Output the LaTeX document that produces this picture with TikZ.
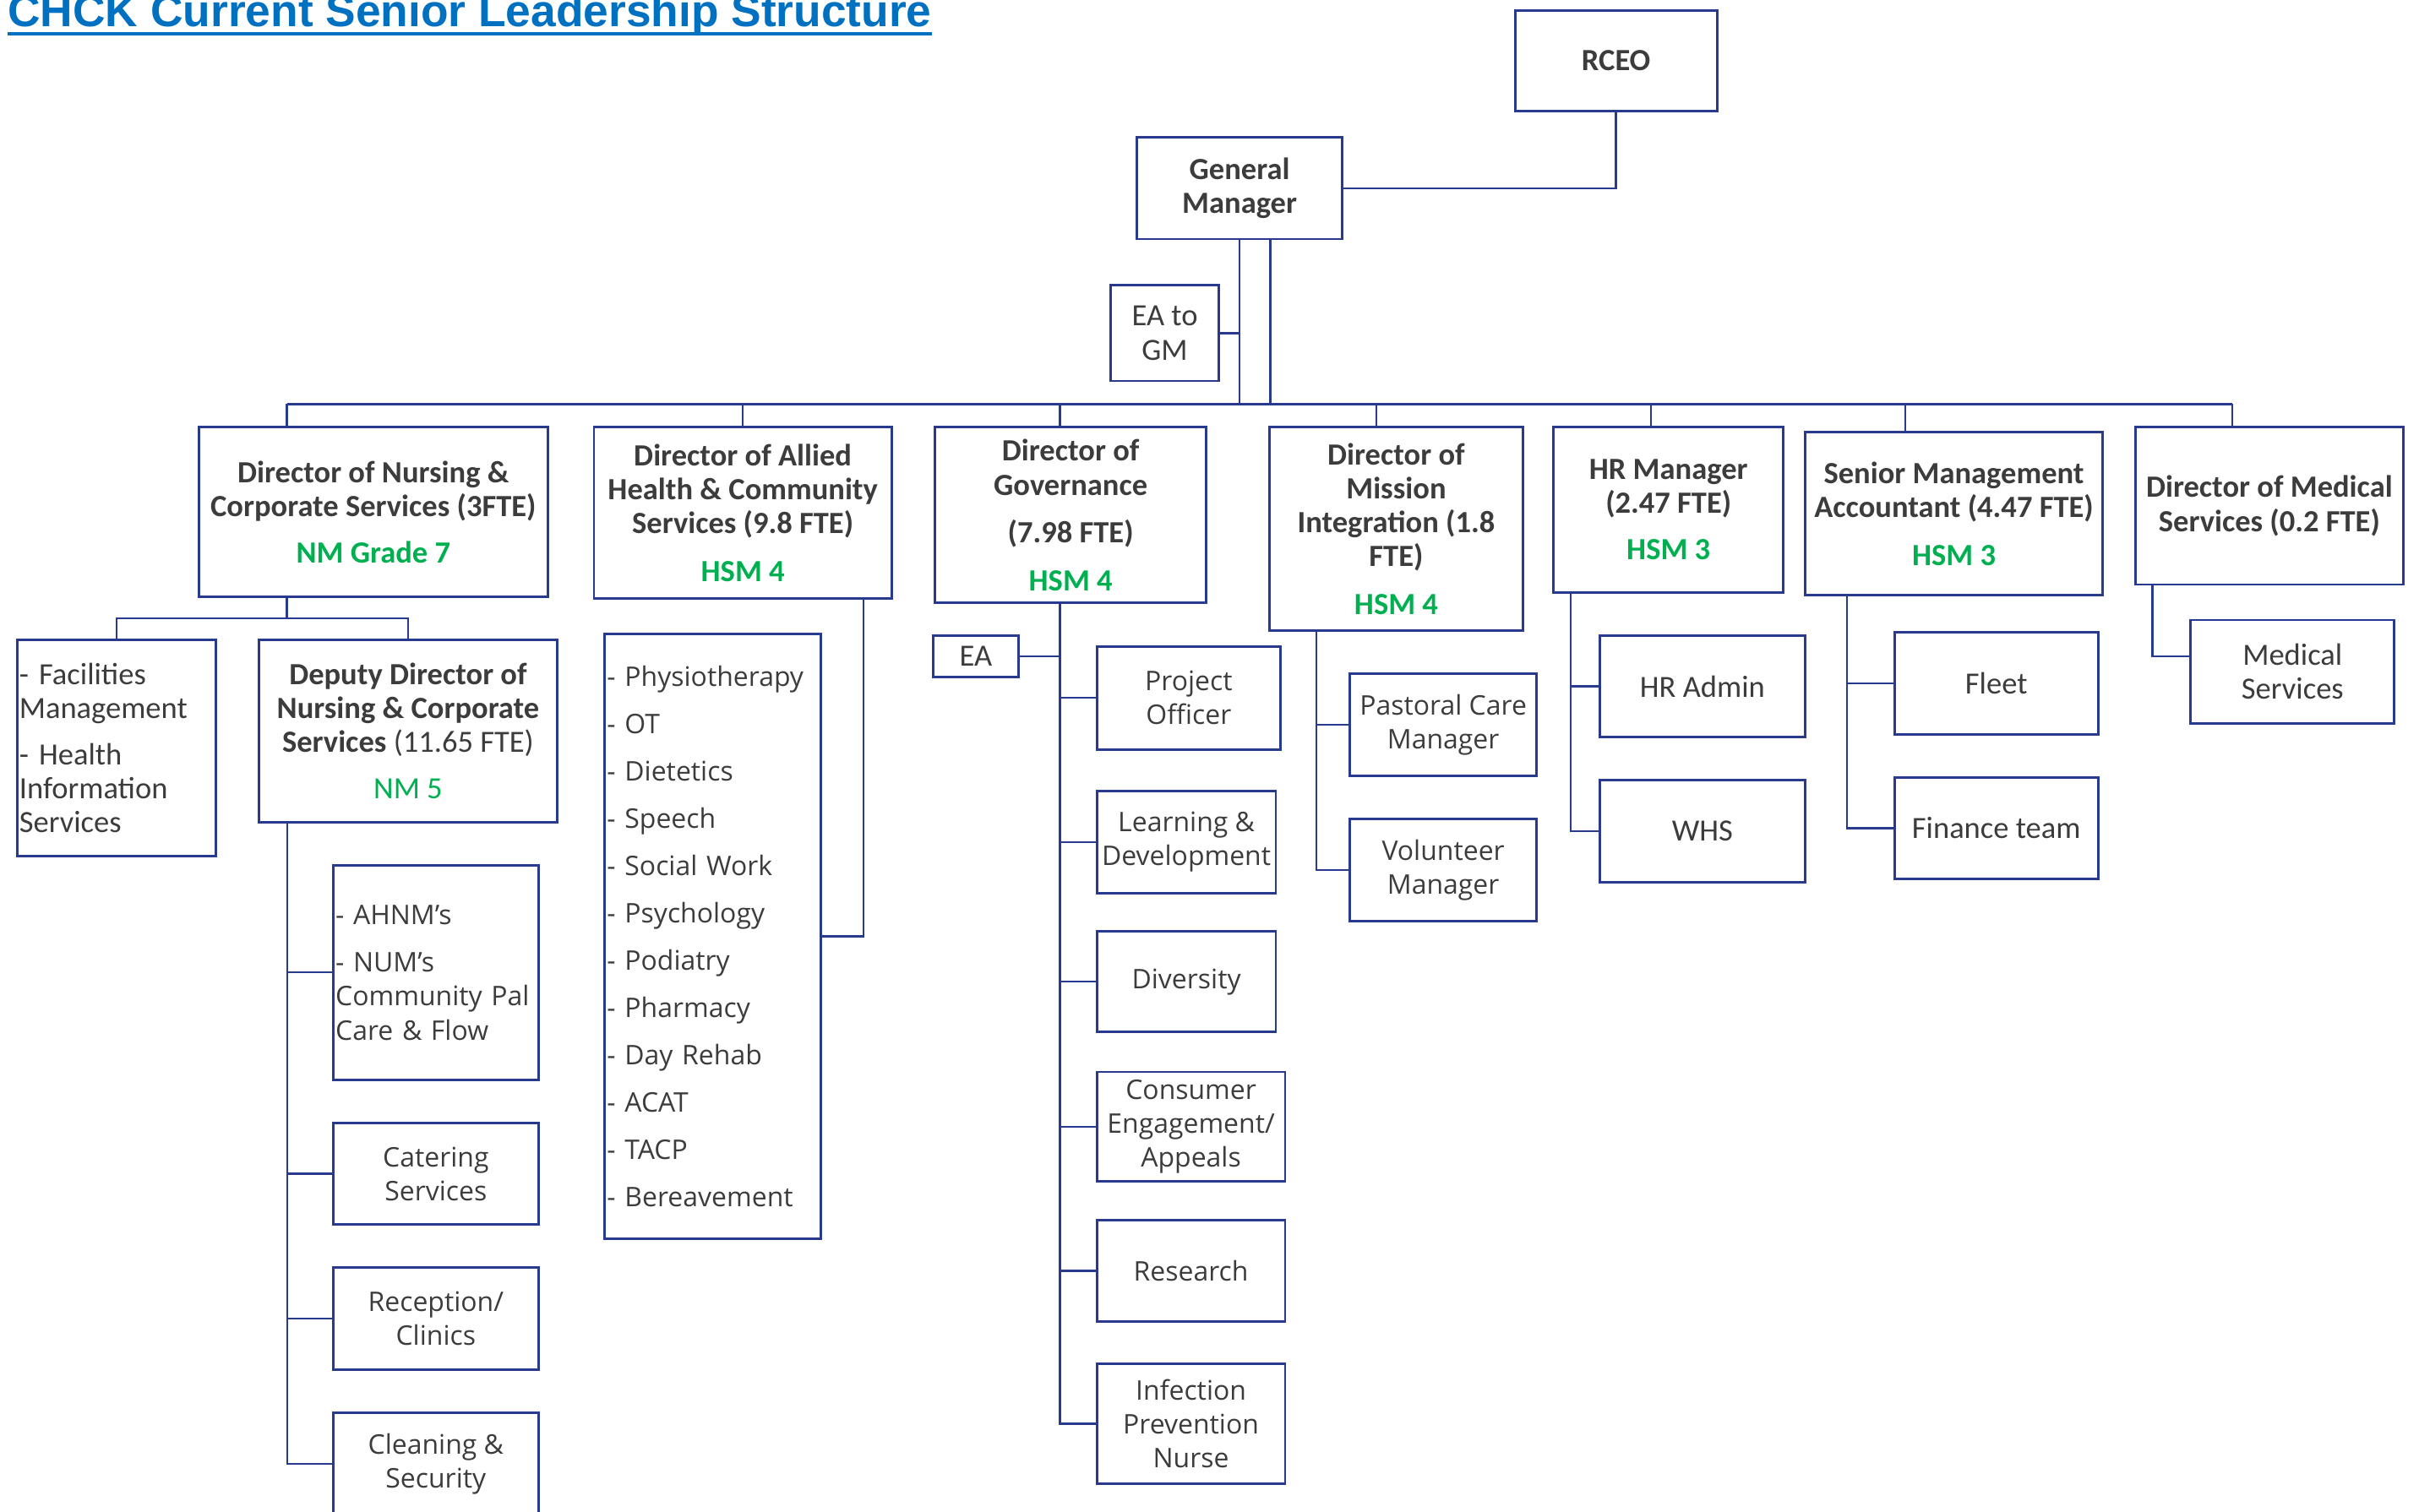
\documentclass[tikz,border=0pt]{standalone}
\usepackage{fontspec}
\setmainfont{Carlito}
\newfontfamily\segfont{Open Sans}
\newfontfamily\titlefont{Liberation Sans}
\definecolor{navy}{RGB}{40,58,142}
\definecolor{tgray}{RGB}{60,60,60}
\definecolor{hgreen}{RGB}{0,176,80}
\definecolor{tblue}{RGB}{0,112,192}
\tikzset{
  obox/.style={draw=navy, line width=1.6pt, inner sep=0pt, text=tgray, align=center},
  calr/.style={font=\fontsize{20}{22}\selectfont},
  calb/.style={font=\fontsize{20}{22}\selectfont\bfseries},
  segr/.style={font=\segfont\fontsize{17.5}{22}\selectfont},
  conn/.style={draw=navy, line width=1.3pt, line join=miter},
}
\newcommand{\ob}[7]{\node[obox,#6,minimum width={(#4-#2)*1pt},minimum height={(#5-#3)*1pt}] (#1) at ({(#2+#4)/2},{(#3+#5)/2}) {#7};}
\begin{document}
\begin{tikzpicture}[x=1pt,y=-1pt]
\useasboundingbox (0,0) rectangle (1568,980);
\clip (0,0) rectangle (1568,980);
% title
\node[font=\titlefont\bfseries\fontsize{29.2}{32}\selectfont, text=tblue, anchor=base west, inner sep=0pt] (title) at (5,17.3) {CHCK Current Senior Leadership Structure};
\draw[tblue, line width=2.4pt] ([yshift=-4.7pt]title.base west) -- ([yshift=-4.7pt]title.base east);
% top
\ob{rceo}{982}{7}{1113}{72}{calb}{RCEO}
\ob{gm}{737}{89}{870}{155}{calb}{General\\Manager}
\ob{eagm}{720}{185}{790}{247}{calr}{EA to\\GM}
% directors
\ob{nurs}{129}{277}{355}{387}{calb}{Director of Nursing \&\\Corporate Services (3FTE)\\[8pt]\textcolor{hgreen}{NM Grade 7}}
\ob{allied}{385}{277}{578}{388}{calb}{Director of Allied\\Health \& Community\\Services (9.8 FTE)\\[9pt]\textcolor{hgreen}{HSM 4}}
\ob{gov}{606}{277}{782}{391}{calb}{Director of\\Governance\\[9pt](7.98 FTE)\\[9pt]\textcolor{hgreen}{HSM 4}}
\ob{mis}{823}{277}{987}{409}{calb}{Director of\\Mission\\Integration (1.8\\FTE)\\[9pt]\textcolor{hgreen}{HSM 4}}
\ob{hr}{1007}{277}{1156}{384}{calb}{HR Manager\\(2.47 FTE)\\[8pt]\textcolor{hgreen}{HSM 3}}
\ob{sma}{1170}{280}{1363}{386}{calb}{Senior Management\\Accountant (4.47 FTE)\\[9pt]\textcolor{hgreen}{HSM 3}}
\ob{med}{1384}{277}{1558}{379}{calb}{Director of Medical\\Services (0.2 FTE)}
% nursing
\ob{fac}{11}{415}{140}{555}{calr,align=left,text width=126pt,inner xsep=1.5pt}{- Facilities\\Management\\[8pt]- Health\\Information\\Services}
\ob{dep}{168}{415}{361}{533}{calb}{Deputy Director of\\Nursing \& Corporate\\Services {\mdseries(11.65 FTE)}\\[8pt]{\mdseries\color{hgreen}NM 5}}
\ob{ahnm}{216}{561}{349}{700}{segr,align=left,text width=130pt,inner xsep=1.5pt}{- AHNM’s\\[9pt]- NUM’s\\Community Pal\\Care \& Flow}
\ob{cat}{216}{728}{349}{794}{segr}{Catering\\Services}
\ob{rec}{216}{822}{349}{888}{segr}{Reception/\\Clinics}
\ob{clean}{216}{916}{349}{982}{segr}{Cleaning \&\\Security}
% allied
\ob{alist}{392}{411}{532}{803}{segr,align=left,text width=137pt,inner xsep=1.5pt}{- Physiotherapy\\[8.7pt]- OT\\[8.7pt]- Dietetics\\[8.7pt]- Speech\\[8.7pt]- Social Work\\[8.7pt]- Psychology\\[8.7pt]- Podiatry\\[8.7pt]- Pharmacy\\[8.7pt]- Day Rehab\\[8.7pt]- ACAT\\[8.7pt]- TACP\\[8.7pt]- Bereavement}
% governance
\ob{eag}{605}{412}{660}{439}{calr}{EA}
\ob{po}{711}{419}{830}{486}{segr}{Project\\Officer}
\ob{ld}{711}{513}{827}{579}{segr}{Learning \&\\Development}
\ob{div}{711}{604}{827}{669}{segr}{Diversity}
\ob{cons}{711}{695}{833}{766}{segr}{Consumer\\Engagement/\\Appeals}
\ob{res}{711}{791}{833}{857}{segr}{Research}
\ob{inf}{711}{884}{833}{962}{segr}{Infection\\Prevention\\Nurse}
% mission
\ob{past}{875}{437}{996}{503}{segr}{Pastoral Care\\Manager}
\ob{vol}{875}{531}{996}{597}{segr}{Volunteer\\Manager}
% HR
\ob{hra}{1037}{412}{1170}{478}{calr}{HR Admin}
\ob{whs}{1037}{506}{1170}{572}{calr}{WHS}
% SMA
\ob{fleet}{1228}{410}{1360}{476}{calr}{Fleet}
\ob{fin}{1228}{504}{1360}{570}{calr}{Finance team}
% medical
\ob{msvc}{1420}{402}{1552}{469}{calr}{Medical\\Services}
% ---- connectors
\draw[conn] (rceo.south) |- (gm.east);
\coordinate (bn) at (186,262);
\coordinate (ba) at (481.5,262);
\coordinate (bg) at (687,262);
\coordinate (bm) at (892,262);
\coordinate (bh) at (1070,262);
\coordinate (bs) at (1235,262);
\coordinate (bd) at (1447,262);
\draw[conn] (bn) -- (bd);
\draw[conn] (gm.south) -- (gm.south |- bn);
\draw[conn] ([xshift=20pt]gm.south) -- ([xshift=20pt]gm.south |- bn);
\draw[conn] (eagm.east) -- (eagm.east -| gm.south);
\foreach \b/\n in {bn/nurs,ba/allied,bg/gov,bm/mis,bh/hr,bs/sma,bd/med}
  \draw[conn] (\b) -- (\b |- \n.north);
% nursing
\coordinate (nb) at (186,401);
\draw[conn] (nb |- nurs.south) -- (nb);
\draw[conn] (fac.north) |- (nb) -| (dep.north);
\coordinate (dv) at ([xshift=19pt]dep.south west);
\draw[conn] (dv) |- (clean.west);
\foreach \n in {ahnm,cat,rec} \draw[conn] (\n.west) -- (\n.west -| dv);
% allied
\draw[conn] ([xshift=-19pt]allied.south east) |- (alist.east);
% governance
\coordinate (gv) at ([xshift=-7pt]gov.south);
\draw[conn] (gv) |- (inf.west);
\draw[conn] (eag.east) -- (eag.east -| gv);
\foreach \n in {po,ld,div,cons,res} \draw[conn] (\n.west) -- (\n.west -| gv);
% mission
\coordinate (mv) at ([xshift=31pt]mis.south west);
\draw[conn] (mv) |- (vol.west);
\draw[conn] (past.west) -- (past.west -| mv);
% HR
\coordinate (hv) at ([xshift=12pt]hr.south west);
\draw[conn] (hv) |- (whs.west);
\draw[conn] (hra.west) -- (hra.west -| hv);
% SMA
\coordinate (sv) at ([xshift=28pt]sma.south west);
\draw[conn] (sv) |- (fin.west);
\draw[conn] (fleet.west) -- (fleet.west -| sv);
% medical
\coordinate (mdv) at ([xshift=12pt]med.south west);
\draw[conn] (mdv) |- ([yshift=10pt]msvc.west);
\end{tikzpicture}
\end{document}
